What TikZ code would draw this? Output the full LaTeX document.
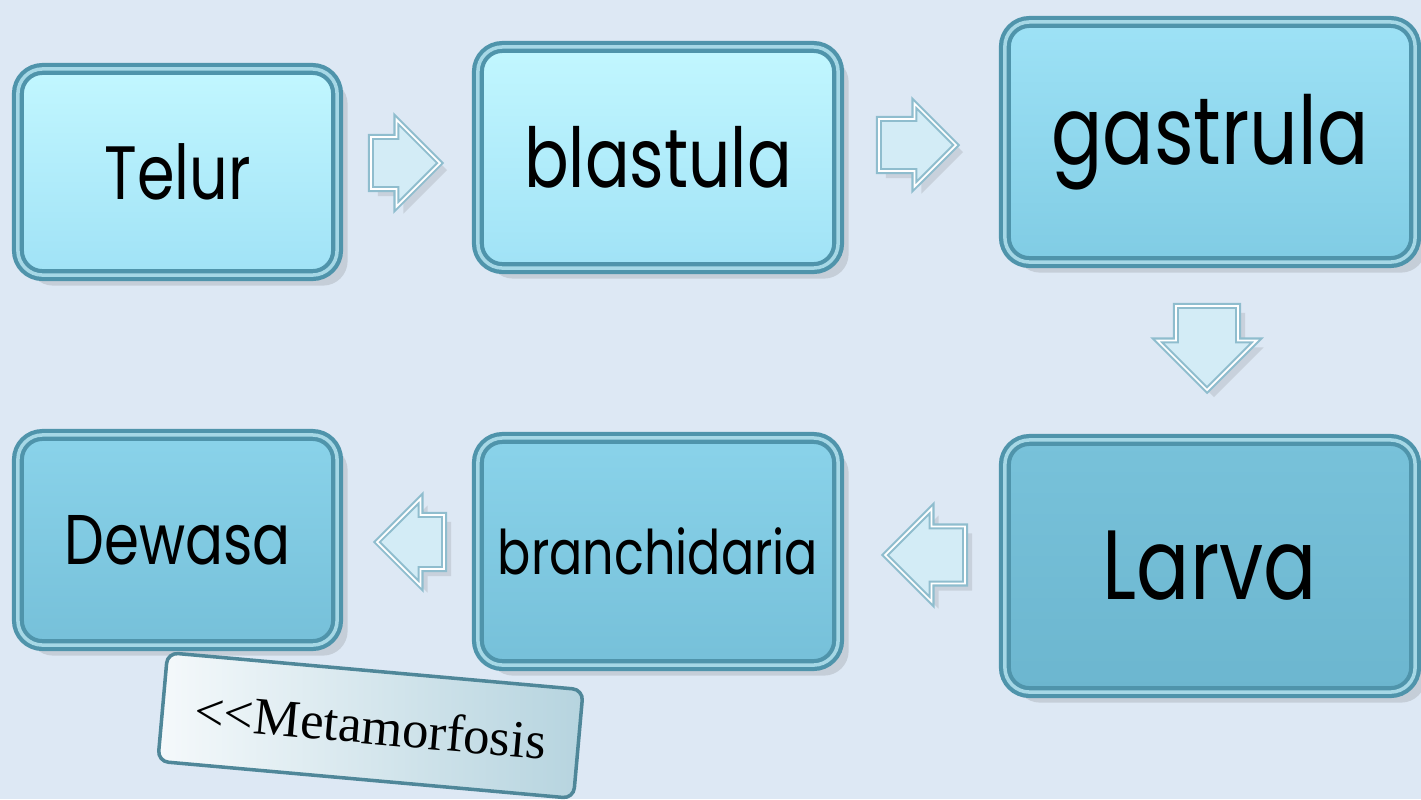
\documentclass[tikz,border=0pt]{standalone}
\usepackage{fontspec}
\newfontfamily\stagefont[FakeStretch=0.8]{Poppins}
\newfontfamily\notefont{Liberation Serif}
\usetikzlibrary{shapes.arrows,shadows}

\definecolor{bgblue}{HTML}{DDE8F4}
\definecolor{rim}{HTML}{4F94AB}
\definecolor{rimlight}{HTML}{A6D8E6}
\definecolor{arrowfill}{HTML}{D3ECF6}
\definecolor{arrowedge}{HTML}{8FBDCE}
\definecolor{noteedge}{HTML}{4F8799}

\tikzset{
  stage/.style={rectangle, rounded corners=7pt, draw=rim, line width=1.2pt,
    double=rimlight, double distance=1pt, inner sep=0pt,
    drop shadow={shadow xshift=3pt, shadow yshift=-3pt, opacity=0.16, fill=black!70}},
  paleA/.style={top color={rgb,255:red,194;green,247;blue,255}, bottom color={rgb,255:red,160;green,226;blue,246}},
  paleB/.style={top color={rgb,255:red,158;green,226;blue,246}, bottom color={rgb,255:red,128;green,204;blue,228}},
  paleC/.style={top color={rgb,255:red,138;green,211;blue,234}, bottom color={rgb,255:red,118;green,192;blue,217}},
  paleD/.style={top color={rgb,255:red,120;green,194;blue,218}, bottom color={rgb,255:red,108;green,182;blue,207}},
  flow/.style={single arrow, fill=arrowfill, draw=arrowedge, line width=0.6pt,
    double=white, double distance=0.5pt, inner xsep=0pt, outer sep=0pt, anchor=tip,
    drop shadow={shadow xshift=2pt, shadow yshift=-2pt, opacity=0.14, fill=black!70}},
  note/.style={rectangle, rounded corners=3pt, draw=noteedge, line width=1pt,
    left color={rgb,255:red,245;green,249;blue,251}, right color={rgb,255:red,182;green,212;blue,223},
    inner sep=0pt, font=\notefont\fontsize{15}{17}\selectfont}
}

\begin{document}
\begin{tikzpicture}[x=0.01cm, y=-0.01cm]
\fill[bgblue] (0,0) rectangle (1421,799);
\useasboundingbox (0,0) rectangle (1421,799);

% top row
\node[stage, paleA, minimum width=3.19cm, minimum height=2.06cm,
      font=\stagefont\fontsize{21.5}{25}\selectfont] (telur) at (177.5,172) {Telur};
\node[stage, paleA, minimum width=3.60cm, minimum height=2.21cm,
      font=\stagefont\fontsize{23.5}{27}\selectfont] (blastula) at (658,157.5) {blastula};
\node[stage, paleB, minimum width=4.10cm, minimum height=2.40cm,
      font=\stagefont\fontsize{27}{31}\selectfont] (gastrula) at (1210,142) {gastrula};

% bottom row
\node[stage, paleD, minimum width=4.10cm, minimum height=2.52cm,
      font=\stagefont\fontsize{28}{32}\selectfont] (larva) at (1210,566) {Larva};
\node[stage, paleC, minimum width=3.60cm, minimum height=2.27cm,
      font=\stagefont\fontsize{17.5}{21}\selectfont] (branchidaria) at (658,551.5) {branchidaria};
\node[stage, paleC, minimum width=3.19cm, minimum height=2.10cm,
      font=\stagefont\fontsize{20}{24}\selectfont] (dewasa) at (177.5,540) {Dewasa};

% block arrows (placed by their tips)
\node[flow, inner ysep=0.25cm, minimum height=0.69cm, single arrow head extend=0.175cm] (a1) at (440,163) {};
\node[flow, inner ysep=0.25cm, minimum height=0.77cm, single arrow head extend=0.155cm] (a2) at (956,145) {};
\node[flow, rotate=-90, inner ysep=0.30cm, minimum height=0.84cm, single arrow head extend=0.185cm] (a3) at (1207,390) {};
\node[flow, rotate=180, inner ysep=0.275cm, minimum height=0.80cm, single arrow head extend=0.18cm] (a4) at (885,555) {};
\node[flow, rotate=180, inner ysep=0.26cm, minimum height=0.67cm, single arrow head extend=0.165cm] (a5) at (377,542) {};

\node[note, rotate=-5.1, minimum width=4.17cm, minimum height=1.09cm] (meta) at (370.5,725.5) {{<}{<}Metamorfosis};
\end{tikzpicture}
\end{document}
